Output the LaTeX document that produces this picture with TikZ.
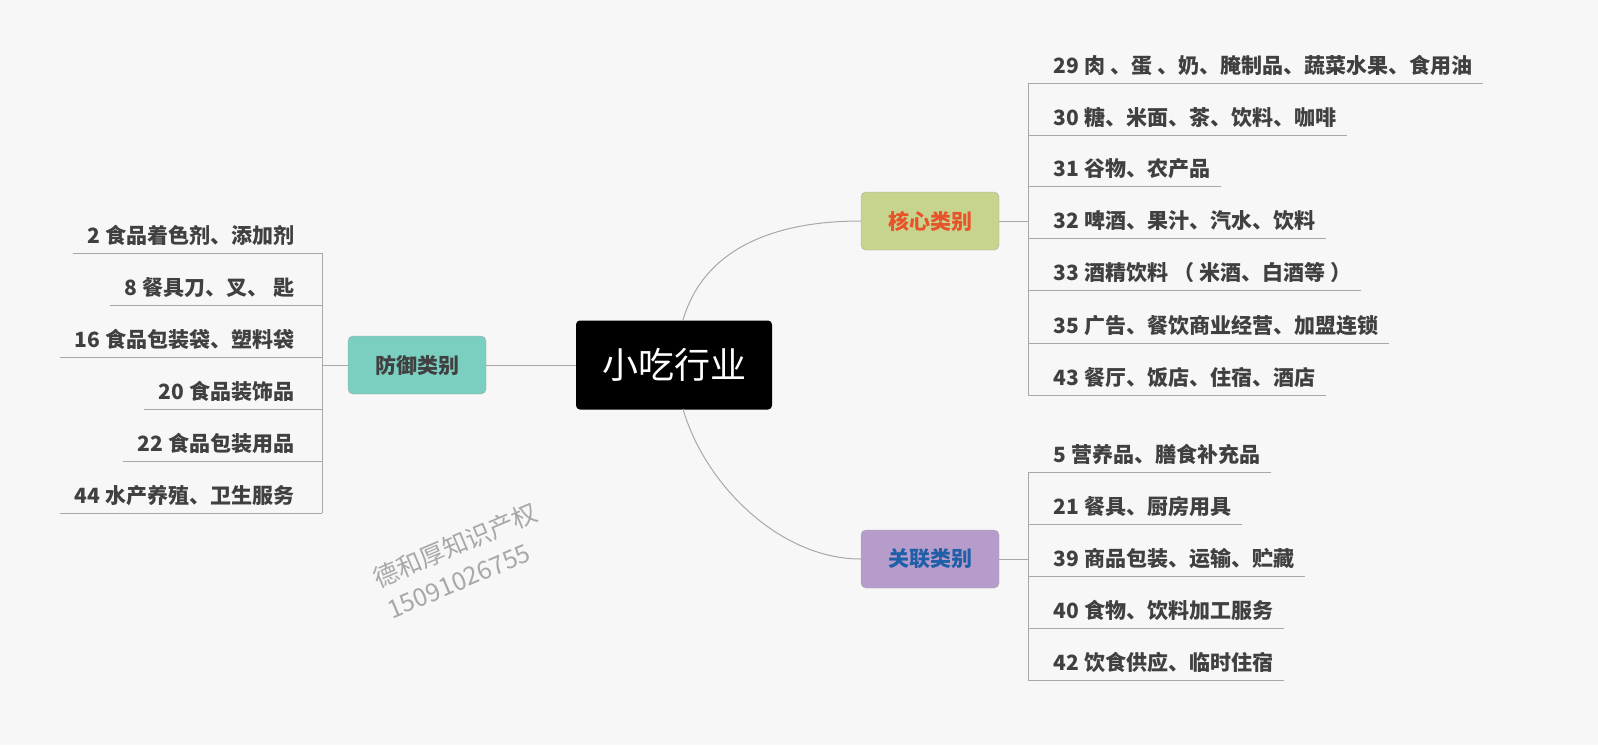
\documentclass[tikz,border=0pt]{standalone}
\usepackage{fontspec}
\setmainfont{Noto Sans CJK SC}
\definecolor{bgc}{HTML}{F7F7F7}
\definecolor{linec}{HTML}{A8A8A8}
\definecolor{textc}{HTML}{404040}
\definecolor{corefill}{HTML}{C6D48E}
\definecolor{relfill}{HTML}{B59CCB}
\definecolor{deffill}{HTML}{7BCFC1}
\tikzset{
  branch/.style={draw=linec, rounded corners=5pt, minimum width=138pt, minimum height=58pt, font=\fontsize{21}{24}\selectfont\bfseries},
  item/.style={inner xsep=10pt, inner ysep=7pt, text=textc, font=\fontsize{21}{24}\selectfont\bfseries},
  link/.style={draw=linec, line width=1pt}
}
\begin{document}
\begin{tikzpicture}[x=1pt,y=-1pt]
\useasboundingbox (0,0) rectangle (1598,745);
\fill[bgc] (0,0) rectangle (1598,745);

\node[fill=black, rounded corners=4pt, minimum width=196pt, minimum height=89pt, text=white, font=\fontsize{36}{40}\selectfont] (root) at (674,365) {小吃行业};

\node[branch, fill=corefill, text={rgb,255:red,232;green,83;blue,42}] (core) at (930,221) {核心类别};
\node[branch, fill=relfill, text={rgb,255:red,31;green,95;blue,168}] (rel) at (930,559) {关联类别};
\node[branch, fill=deffill, text=textc] (def) at (417,365) {防御类别};

\coordinate (ra) at (683,320);
\coordinate (rb) at (683,409);
\draw[link] (ra) .. controls (705,245) and (780,221) .. (core.west);
\draw[link] (rb) .. controls (705,485) and (780,559) .. (rel.west);
\draw[link] (root.west) -- (def.east);

% core items
\foreach \y/\n/\t [count=\i] in {83/29/肉 、蛋 、奶、腌制品、蔬菜水果、食用油, 135/30/糖、米面、茶、饮料、咖啡, 186/31/谷物、农产品, 238/32/啤酒、果汁、汽水、饮料, 290/33/酒精饮料 （ 米酒、白酒等 ）, 343/35/广告、餐饮商业经营、加盟连锁, 395/43/餐厅、饭店、住宿、酒店}{
  \node[item, anchor=south west] (c\i) at (1043,\y) {\n\hspace{6pt}\t};
  \draw[link] (1028,\y) -- (c\i.south east);
}
\draw[link] (core.east) -- (1028,221);
\draw[link] (1028,83) -- (1028,395);

% related items
\foreach \y/\n/\t [count=\i] in {472/5/营养品、膳食补充品, 524/21/餐具、厨房用具, 576/39/商品包装、运输、贮藏, 628/40/食物、饮料加工服务, 680/42/饮食供应、临时住宿}{
  \node[item, anchor=south west] (r\i) at (1043,\y) {\n\hspace{6pt}\t};
  \draw[link] (1028,\y) -- (r\i.south east);
}
\draw[link] (rel.east) -- (1028,559);
\draw[link] (1028,472) -- (1028,680);

% defence items
\foreach \y/\n/\t [count=\i] in {253/2/食品着色剂、添加剂, 305/8/餐具刀、叉、 匙, 357/16/食品包装袋、塑料袋, 409/20/食品装饰品, 461/22/食品包装用品, 513/44/水产养殖、卫生服务}{
  \node[item, anchor=south east, inner xsep=14pt] (d\i) at (309,\y) {\n\hspace{6pt}\t};
  \draw[link] (322,\y) -- (d\i.south west);
}
\draw[link] (def.west) -- (322,365);
\draw[link] (322,253) -- (322,513);

\node[text=linec, rotate=23, align=left, font=\fontsize{25}{34}\selectfont] (mark) at (462,560) {德和厚知识产权\\15091026755};
\end{tikzpicture}
\end{document}
